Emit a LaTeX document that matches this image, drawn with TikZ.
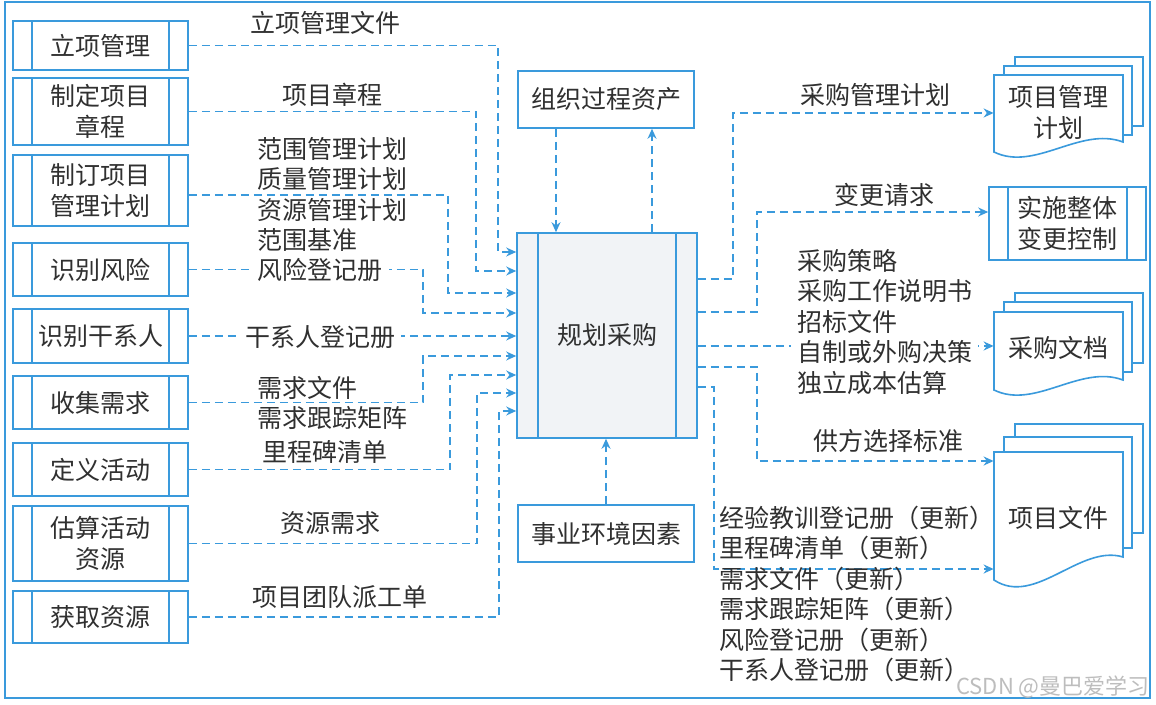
\documentclass[tikz,border=0pt]{standalone}
\usepackage{fontspec}
\setmainfont{Noto Sans CJK SC}
\usetikzlibrary{arrows.meta}
\definecolor{bl}{HTML}{3A9ADC}
\definecolor{tx}{HTML}{303030}
\definecolor{cfill}{HTML}{F1F3F6}
\definecolor{wmc}{HTML}{BDBDBD}
\begin{document}
\begin{tikzpicture}[x=0.5pt,y=-0.5pt,
  every node/.style={font=\fontsize{12.5pt}{15.25pt}\selectfont, text=tx, inner sep=0pt},
  pbox/.style={draw=bl, line width=0.8pt, fill=white, minimum width=87.5pt, align=center},
  sbox/.style={draw=bl, line width=0.8pt, fill=white, minimum width=88pt, minimum height=28.5pt},
  docpage/.style={draw=bl, line width=0.8pt, fill=white},
  doctext/.style={minimum width=64.5pt, align=center},
  flow/.style={draw=bl, line width=0.75pt, dash pattern=on 4pt off 2.5pt, -{Stealth[length=5pt,width=4.5pt]}},
  lbl/.style={align=left},
  cover/.style={fill=white, inner xsep=3pt, inner ysep=1pt},
  innerline/.style={draw=bl, line width=0.8pt}
  ]
\useasboundingbox (0,0) rectangle (1156,705);
\fill[white] (0,0) rectangle (1156,705);
\draw[bl, line width=0.8pt] (5,2) rectangle (1150,698);

% document shapes
\draw[docpage] (1015,57) rectangle (1143,126);
\draw[docpage] (1004,66) rectangle (1132,135);
\draw[docpage] (994,75) -- (1123,75) -- (1123,142) .. controls (1080,126) and (1035,172) .. (994,152) -- cycle;

\draw[docpage] (1015,293) rectangle (1143,363);
\draw[docpage] (1004,302) rectangle (1132,372);
\draw[docpage] (994,312) -- (1123,312) -- (1123,380) .. controls (1080,364) and (1035,410) .. (994,390) -- cycle;

\draw[docpage] (1015,424) rectangle (1143,533);
\draw[docpage] (1004,437) rectangle (1132,548);
\draw[docpage] (994,452) -- (1123,452) -- (1123,557) .. controls (1080,544) and (1035,607) .. (994,580) -- cycle;

% left boxes
\node[pbox, minimum height=24.5pt] (b1) at (100.5,45.5) {立项管理};
\node[pbox, minimum height=33.5pt] (b2) at (100.5,111.5) {制定项目\\章程};
\node[pbox, minimum height=35.5pt] (b3) at (100.5,190.5) {制订项目\\管理计划};
\node[pbox, minimum height=26.5pt] (b4) at (100.5,269.5) {识别风险};
\node[pbox, minimum height=27pt] (b5) at (100.5,336) {识别干系人};
\node[pbox, minimum height=26.5pt] (b6) at (100.5,402.5) {收集需求};
\node[pbox, minimum height=26.5pt] (b7) at (100.5,469.5) {定义活动};
\node[pbox, minimum height=37.5pt] (b8) at (100.5,543.5) {估算活动\\资源};
\node[pbox, minimum height=26pt] (b9) at (100.5,617) {获取资源};
\foreach \n in {b1,b2,b3,b4,b5,b6,b7,b8,b9}
  \draw[innerline] ([xshift=10pt]\n.north west) -- ([xshift=10pt]\n.south west)
                   ([xshift=-10pt]\n.north east) -- ([xshift=-10pt]\n.south east);

% center boxes
\node[draw=bl, line width=0.8pt, fill=cfill, minimum width=90pt, minimum height=102.5pt] (cp) at (607,335.5) {规划采购};
\draw[innerline] ([xshift=11pt]cp.north west) -- ([xshift=11pt]cp.south west)
                 ([xshift=-11pt]cp.north east) -- ([xshift=-11pt]cp.south east);
\node[sbox] (opa) at (606,99.5) {组织过程资产};
\node[sbox] (eef) at (606,533.5) {事业环境因素};

% right process box
\node[pbox, minimum width=78.5pt, minimum height=36.5pt] (icc) at (1067.5,223.5) {实施整体\\变更控制};
\draw[innerline] ([xshift=10pt]icc.north west) -- ([xshift=10pt]icc.south west)
                 ([xshift=-10pt]icc.north east) -- ([xshift=-10pt]icc.south east);

% document texts
\node[doctext] (pmp) at (1058.5,112.5) {项目管理\\计划};
\node[doctext] (pdoc) at (1058.5,348) {采购文档};
\node[doctext] (pfile) at (1058.5,518) {项目文件};

% input connectors
\draw[flow] (b1.east) -| (498,252) -- (cp.west |- 0,252);
\draw[flow] (b2.east) -| (476,271) -- (cp.west |- 0,271);
\draw[flow] (b3.east |- 0,195) -| (448,293) -- (cp.west |- 0,293);
\draw[flow] (b4.east) -| (423,313) -- (cp.west |- 0,313);
\draw[flow] (b5.east) -- (cp.west |- b5.east);
\draw[flow] (b6.east) -| (423,356) -- (cp.west |- 0,356);
\draw[flow] (b7.east) -| (450,375) -- (cp.west |- 0,375);
\draw[flow] (b8.east) -| (477,393) -- (cp.west |- 0,393);
\draw[flow] (b9.east) -| (499,411) -- (cp.west |- 0,411);

\draw[flow] (opa.south -| 556,0) -- (cp.north -| 556,0);
\draw[flow] (cp.north -| 652,0) -- (opa.south -| 652,0);
\draw[flow] (eef.north) -- (cp.south -| eef.north);

% output connectors
\draw[flow] (cp.east |- 0,279) -| (733,113) -- (pmp.west |- 0,113);
\draw[flow] (cp.east |- 0,312) -| (757,212) -- (icc.west |- 0,212);
\draw[flow] (cp.east |- 0,346) -- (pdoc.west |- 0,346);
\draw[flow] (cp.east |- 0,367) -| (757,461) -- (pfile.west |- 0,461);
\draw[flow] (cp.east |- 0,387) -| (714,569) -- (pfile.west |- 0,569);

% left labels
\node (l1) at (325,23) {立项管理文件};
\node (l2) at (332,95) {项目章程};
\node[lbl, anchor=west] (l3) at (257,194.5) {范围管理计划\\质量管理计划\\资源管理计划\\范围基准};
\node[cover] (l4) at (320,270) {风险登记册};
\node[cover] (l5) at (320,337) {干系人登记册};
\node[lbl, anchor=west] (l6) at (257,403) {需求文件\\需求跟踪矩阵};
\node (l7) at (325,452) {里程碑清单};
\node (l8) at (330,523) {资源需求};
\node (l9) at (340,597) {项目团队派工单};

% right labels
\node (r1) at (875,95) {采购管理计划};
\node (r2) at (884,195) {变更请求};
\node[lbl, cover, anchor=west] (r3) at (791,322) {采购策略\\采购工作说明书\\招标文件\\自制或外购决策\\独立成本估算};
\node (r4) at (888,441) {供方选择标准};
\node[lbl, anchor=west] (r5) at (719,594) {经验教训登记册（更新）\\里程碑清单（更新）\\需求文件（更新）\\需求跟踪矩阵（更新）\\风险登记册（更新）\\干系人登记册（更新）};

% watermark
\node[text=wmc, font=\fontsize{11pt}{13pt}\selectfont] (wm) at (1053,687) {CSDN @曼巴爱学习};
\end{tikzpicture}
\end{document}
